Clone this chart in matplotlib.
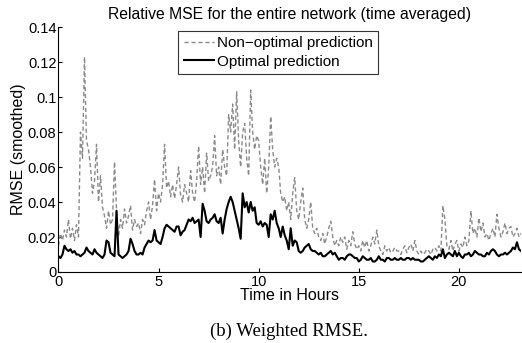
import numpy as np
import matplotlib.pyplot as plt

plt.rcParams['font.family'] = ['Liberation Sans', 'DejaVu Sans']

# time axis, 0.1 h steps
hours = np.round(np.arange(0, 23.15, 0.1), 1)

non_optimal = [
    0.015, 0.022, 0.018, 0.024, 0.02, 0.03, 0.019, 0.025, 0.018, 0.027,
    0.02, 0.08, 0.065, 0.123, 0.075, 0.07, 0.06, 0.045, 0.052, 0.073,
    0.04, 0.055, 0.037, 0.032, 0.025, 0.035, 0.027, 0.03, 0.063, 0.035,
    0.02, 0.03, 0.025, 0.036, 0.028, 0.032, 0.038, 0.024, 0.03, 0.026,
    0.028, 0.022, 0.03, 0.027, 0.035, 0.04, 0.03, 0.038, 0.053, 0.035,
    0.045, 0.04, 0.05, 0.073, 0.048, 0.052, 0.043, 0.05, 0.042, 0.05,
    0.06, 0.044, 0.04, 0.05, 0.045, 0.04, 0.058, 0.045, 0.04, 0.052,
    0.072, 0.05, 0.06, 0.045, 0.068, 0.052, 0.055, 0.06, 0.078, 0.055,
    0.06, 0.05, 0.07, 0.06, 0.055, 0.09, 0.08, 0.096, 0.07, 0.103,
    0.075, 0.06, 0.08, 0.085, 0.065, 0.055, 0.104, 0.08, 0.07, 0.078,
    0.075, 0.06, 0.05, 0.065, 0.045, 0.06, 0.089, 0.07, 0.06, 0.065,
    0.06, 0.045, 0.04, 0.043, 0.035, 0.04, 0.03, 0.045, 0.054, 0.035,
    0.03, 0.04, 0.048, 0.03, 0.025, 0.03, 0.04, 0.025, 0.022, 0.025,
    0.02, 0.018, 0.022, 0.016, 0.02, 0.025, 0.029, 0.02, 0.015, 0.018,
    0.015, 0.02, 0.017, 0.02, 0.013, 0.018, 0.015, 0.023, 0.016, 0.013,
    0.015, 0.012, 0.018, 0.014, 0.018, 0.012, 0.015, 0.02, 0.016, 0.024,
    0.015, 0.012, 0.01, 0.015, 0.012, 0.014, 0.011, 0.012, 0.014, 0.012,
    0.012, 0.01, 0.013, 0.015, 0.011, 0.014, 0.016, 0.012, 0.018, 0.012,
    0.01, 0.012, 0.01, 0.011, 0.013, 0.012, 0.01, 0.013, 0.014, 0.012,
    0.015, 0.012, 0.038, 0.03, 0.015, 0.013, 0.018, 0.012, 0.016, 0.018,
    0.012, 0.016, 0.014, 0.02, 0.015, 0.018, 0.035, 0.022, 0.025, 0.02,
    0.031, 0.023, 0.028, 0.02, 0.022, 0.018, 0.022, 0.025, 0.02, 0.033,
    0.025, 0.02, 0.023, 0.028, 0.022, 0.025, 0.026, 0.02, 0.022, 0.025,
    0.02, 0.022,
]

optimal = [
    0.009, 0.008, 0.01, 0.015, 0.013, 0.012, 0.013, 0.011, 0.012, 0.01,
    0.01, 0.009, 0.01, 0.011, 0.014, 0.012, 0.011, 0.01, 0.013, 0.011,
    0.01, 0.009, 0.008, 0.01, 0.018, 0.017, 0.011, 0.01, 0.009, 0.035,
    0.01, 0.009, 0.008, 0.009, 0.01, 0.012, 0.019, 0.016, 0.012, 0.01,
    0.01, 0.011, 0.01, 0.014, 0.016, 0.018, 0.017, 0.018, 0.024, 0.018,
    0.017, 0.016, 0.02, 0.025, 0.027, 0.026, 0.025, 0.024, 0.023, 0.026,
    0.026, 0.021, 0.023, 0.024, 0.027, 0.03, 0.029, 0.031, 0.028, 0.029,
    0.03, 0.02, 0.039, 0.035, 0.029, 0.028, 0.03, 0.031, 0.033, 0.029,
    0.028, 0.031, 0.022, 0.03, 0.036, 0.04, 0.043, 0.04, 0.035, 0.03,
    0.025, 0.019, 0.045, 0.037, 0.04, 0.034, 0.04, 0.035, 0.037, 0.028,
    0.027, 0.029, 0.026, 0.028, 0.027, 0.02, 0.033, 0.03, 0.035, 0.028,
    0.025, 0.02, 0.026, 0.021, 0.018, 0.013, 0.025, 0.015, 0.018, 0.017,
    0.012, 0.011, 0.012, 0.014, 0.015, 0.016, 0.013, 0.012, 0.012, 0.011,
    0.01, 0.011, 0.009, 0.009, 0.01, 0.011, 0.012, 0.01, 0.011, 0.009,
    0.007, 0.008, 0.008, 0.007, 0.009, 0.01, 0.01, 0.009, 0.008, 0.008,
    0.006, 0.007, 0.009, 0.008, 0.007, 0.007, 0.008, 0.006, 0.006, 0.007,
    0.009, 0.007, 0.007, 0.006, 0.008, 0.008, 0.007, 0.007, 0.008, 0.007,
    0.007, 0.008, 0.007, 0.007, 0.008, 0.008, 0.007, 0.008, 0.007, 0.007,
    0.007, 0.006, 0.006, 0.007, 0.008, 0.009, 0.008, 0.007, 0.009, 0.008,
    0.01, 0.009, 0.013, 0.008, 0.01, 0.011, 0.01, 0.009, 0.012, 0.009,
    0.011, 0.009, 0.008, 0.01, 0.01, 0.011, 0.009, 0.01, 0.012, 0.011,
    0.01, 0.01, 0.009, 0.009, 0.011, 0.01, 0.012, 0.013, 0.012, 0.01,
    0.009, 0.01, 0.01, 0.011, 0.01, 0.011, 0.012, 0.014, 0.013, 0.017,
    0.013, 0.012,
]

yticks = [0, 0.02, 0.04, 0.06, 0.08, 0.1, 0.12, 0.14]
ytick_labels = ['0', '0.02', '0.04', '0.06', '0.08', '0.1', '0.12', '0.14']
xticks = [0, 5, 10, 15, 20]

fig = plt.figure(figsize=(5.22, 3.43), dpi=100)
ax = fig.add_axes([0.112, 0.207, 0.886, 0.714])

ax.plot(hours, non_optimal, color='#8a8a8a', lw=1.0, dashes=(3, 2),
        label='Non\u2212optimal prediction')
ax.plot(hours, optimal, color='black', lw=1.5, label='Optimal prediction')

ax.set_xlim(0, 23.1)
ax.set_ylim(0, 0.14)
ax.set_yticks(yticks)
ax.set_yticklabels(ytick_labels)
ax.set_xticks(xticks)
ax.tick_params(direction='in', length=3, labelsize=10.5)
ax.tick_params(axis='y', pad=1.5)
ax.tick_params(axis='x', pad=2.5)
ax.spines['top'].set_visible(False)
ax.spines['right'].set_visible(False)

ax.set_title('Relative MSE for the entire network (time averaged)', fontsize=11.3, pad=6)
ax.set_xlabel('Time in Hours', fontsize=11.5, labelpad=-1)
ax.set_ylabel('RMSE (smoothed)', fontsize=11.5, labelpad=1)

leg = ax.legend(loc='upper center', bbox_to_anchor=(0.475, 1.0), fontsize=11,
                frameon=True, fancybox=False, handlelength=2.0, handletextpad=0.15,
                borderpad=0.35, labelspacing=0.3, borderaxespad=0.25)
leg.get_frame().set_edgecolor('black')
leg.get_frame().set_linewidth(0.8)

fig.text(0.553, 0.02, '(b) Weighted RMSE.', ha='center', fontsize=13.5,
         family=['Liberation Serif', 'DejaVu Serif'])

fig.savefig('out.png', dpi=100)
